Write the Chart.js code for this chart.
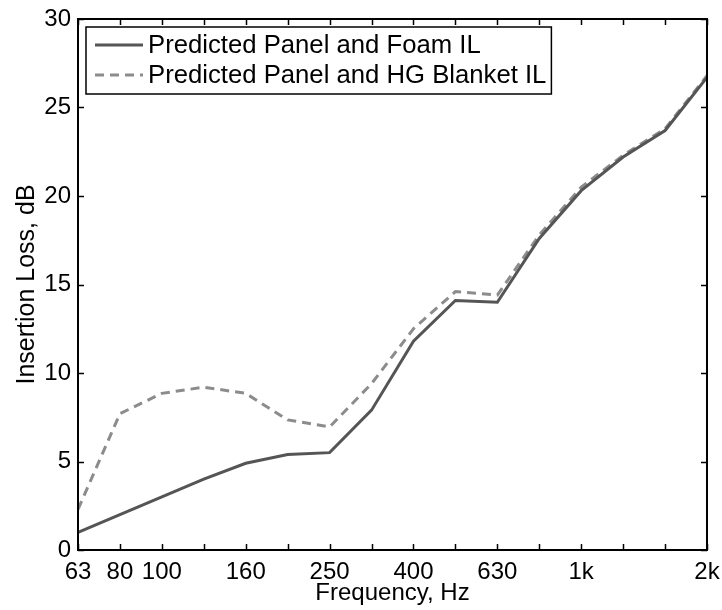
<!DOCTYPE html>
<html>
<head>
<meta charset="utf-8">
<script src="https://cdn.jsdelivr.net/npm/chart.js@4"></script>
<style>
  body { margin: 0; background: #fff; }
  #wrap { width: 722px; height: 610px; }
</style>
</head>
<body>
<div id="wrap"><canvas id="canvas"></canvas></div>
<script>
// one-third octave bands, Hz
let bands = ['63', '80', '100', '125', '160', '200', '250', '315', '400', '500', '630', '800', '1000', '1250', '1600', '2000'];
// which bands get a label on the axis
let bandLabels = { '63': '63', '80': '80', '100': '100', '160': '160', '250': '250', '400': '400', '630': '630', '1000': '1k', '2000': '2k' };

// insertion loss, dB
let foamIL =    [1.0, 2.0, 3.0, 4.0, 4.9, 5.4, 5.5, 7.9, 11.8, 14.1, 14.0, 17.6, 20.3, 22.2, 23.7, 26.7];
let blanketIL = [2.3, 7.7, 8.85, 9.2, 8.85, 7.35, 6.95, 9.4, 12.5, 14.6, 14.4, 17.8, 20.5, 22.3, 23.8, 26.8];

let fontFamily = '"Liberation Sans", Arial, Helvetica, sans-serif';
let fontSize = 24;

// box round the plot with inward ticks on all four sides (matlab style)
let framePlugin = {
  id: 'frame',
  afterDraw(chart) {
    let ctx = chart.ctx;
    let a = chart.chartArea;
    let x = chart.scales.x;
    let y = chart.scales.y;
    let len = 6;
    ctx.save();
    ctx.strokeStyle = '#000';
    ctx.lineWidth = 1.5;
    ctx.beginPath();
    for (let i = 0; i < bands.length; i++) {
      let px = Math.round(x.getPixelForValue(i)) + 0.5;
      ctx.moveTo(px, a.bottom); ctx.lineTo(px, a.bottom - len);
      ctx.moveTo(px, a.top); ctx.lineTo(px, a.top + len);
    }
    y.ticks.forEach(function(t) {
      let py = Math.round(y.getPixelForValue(t.value)) + 0.5;
      ctx.moveTo(a.left, py); ctx.lineTo(a.left + len, py);
      ctx.moveTo(a.right, py); ctx.lineTo(a.right - len, py);
    });
    ctx.stroke();
    ctx.lineWidth = 2;
    ctx.strokeRect(a.left, a.top, a.right - a.left, a.bottom - a.top);
    ctx.restore();
  }
};

// boxed legend in the upper left corner of the plot
let legendPlugin = {
  id: 'boxLegend',
  afterDraw(chart) {
    let ctx = chart.ctx;
    let a = chart.chartArea;
    let left = a.left + 8;
    let top = a.top + 8;
    let rowH = 30;
    ctx.save();
    ctx.font = '25.7px ' + fontFamily;
    let maxW = 0;
    chart.data.datasets.forEach(function(ds) {
      maxW = Math.max(maxW, ctx.measureText(ds.label).width);
    });
    let textX = left + 62;
    let w = textX - left + maxW + 5;
    let h = 67;
    ctx.fillStyle = '#fff';
    ctx.fillRect(left, top, w, h);
    ctx.strokeStyle = '#000';
    ctx.lineWidth = 1.5;
    ctx.strokeRect(left, top, w, h);
    chart.data.datasets.forEach(function(ds, i) {
      let cy = top + 18 + i * rowH;
      ctx.strokeStyle = ds.borderColor;
      ctx.lineWidth = ds.borderWidth;
      ctx.setLineDash(ds.borderDash || []);
      ctx.beginPath();
      ctx.moveTo(left + 9, cy);
      ctx.lineTo(left + 57, cy);
      ctx.stroke();
      ctx.setLineDash([]);
      ctx.fillStyle = '#000';
      ctx.textBaseline = 'middle';
      ctx.fillText(ds.label, textX, cy + 1);
    });
    ctx.restore();
  }
};

let options = {
  type: 'line',
  data: {
    labels: bands,
    datasets: [{
      label: 'Predicted Panel and Foam IL',
      data: foamIL,
      borderColor: 'rgb(85,85,85)',
      borderWidth: 3,
      pointRadius: 0,
      fill: false,
      tension: 0
    }, {
      label: 'Predicted Panel and HG Blanket IL',
      data: blanketIL,
      borderColor: 'rgb(140,140,140)',
      borderWidth: 3,
      borderDash: [9, 6],
      pointRadius: 0,
      fill: false,
      tension: 0
    }]
  },
  options: {
    responsive: true,
    maintainAspectRatio: false,
    animation: false,
    layout: { padding: { left: 0, top: 19, right: 15, bottom: 0 } },
    plugins: {
      legend: { display: false },
      tooltip: { enabled: false }
    },
    scales: {
      x: {
        type: 'category',
        offset: false,
        grid: { display: false, drawTicks: false },
        border: { display: false },
        ticks: {
          autoSkip: false,
          maxRotation: 0,
          padding: 8,
          color: '#000',
          font: { family: fontFamily, size: fontSize },
          callback: function(v, i) { return bandLabels[bands[i]] || ''; }
        },
        title: {
          display: true,
          text: 'Frequency, Hz',
          color: '#000',
          font: { family: fontFamily, size: fontSize },
          padding: { top: 0, bottom: 2 }
        },
        afterFit: function(scale) {
          scale.height = 60;
          scale.paddingLeft = 0;
          scale.paddingRight = 0;
        }
      },
      y: {
        min: 0,
        max: 30,
        grid: { display: false, drawTicks: false },
        border: { display: false },
        ticks: {
          stepSize: 5,
          padding: 7,
          color: '#000',
          font: { family: fontFamily, size: fontSize }
        },
        title: {
          display: true,
          text: 'Insertion Loss, dB',
          color: '#000',
          font: { family: fontFamily, size: 25 },
          padding: { top: 12, bottom: 0 }
        },
        afterFit: function(scale) {
          scale.width = 78;
          scale.paddingTop = 0;
          scale.paddingBottom = 0;
        }
      }
    }
  },
  plugins: [framePlugin, legendPlugin]
};

let chart = new Chart(document.getElementById('canvas'), options);
</script>
</body>
</html>
